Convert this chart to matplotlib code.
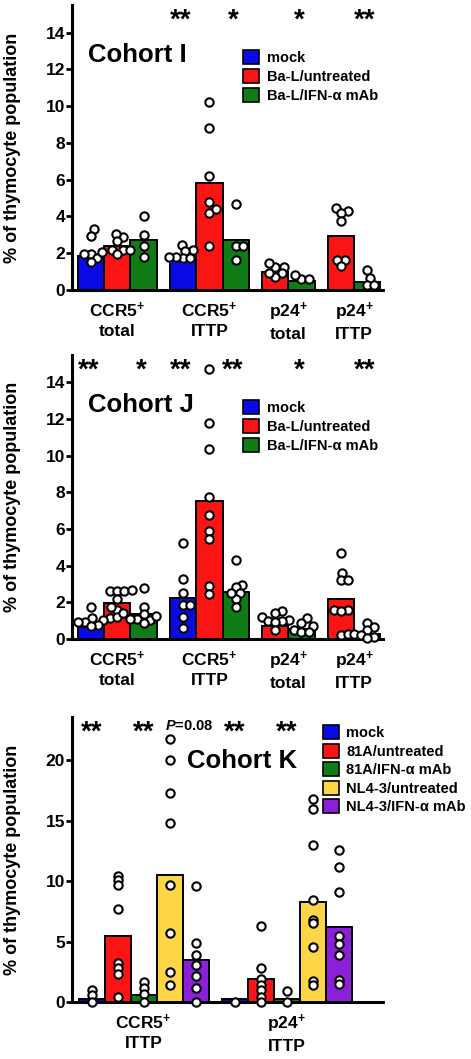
import matplotlib
matplotlib.use("Agg")
import matplotlib.pyplot as plt
from matplotlib.patches import Patch
import numpy as np

plt.rcParams['font.family'] = ['Liberation Sans', 'DejaVu Sans']
plt.rcParams['font.weight'] = 'bold'
plt.rcParams['mathtext.fontset'] = 'custom'
plt.rcParams['mathtext.rm'] = 'Liberation Sans:bold'
plt.rcParams['mathtext.bf'] = 'Liberation Sans:bold'
plt.rcParams['mathtext.it'] = 'Liberation Sans:italic:bold'
plt.rcParams['mathtext.default'] = 'bf'

# colours
c_mock = '#0a0ae6'
c_red = '#fb1414'
c_green = '#0f7c16'
c_yellow = '#fcd646'
c_purple = '#8c1fd8'

# ---------------- Cohort I ----------------
labels_ab = ['CCR5$^{\\!+}$\ntotal', 'CCR5$^{\\!+}$\nITTP', 'p24$^{\\!+}$\ntotal', 'p24$^{\\!+}$\nITTP']
legend_ab = ['mock', 'Ba-L/untreated', 'Ba-L/IFN-α mAb']

# bar heights per group (None = no bar)
i_bars = {
    'mock':  [1.85, 1.65, None, None],
    'untr':  [2.4, 5.8, 1.0, 2.95],
    'mab':   [2.72, 2.72, 0.47, 0.45],
}
i_points = {
    'mock': [[1.96, 3.3, 2.94, 1.76, 1.55, 2.05, 1.96],
             [2.15, 2.45, 2.1, 1.73, 1.8, 1.8, 1.75],
             None, None],
    'untr': [[2.9, 3.05, 2.64, 2.2, 2.2, 2.2, 1.96],
             [10.2, 8.8, 6.2, 4.8, 4.2, 4.4, 2.4],
             [1.27, 1.45, 1.27, 0.91, 0.73, 0.91],
             [4.27, 4.45, 4.18, 3.73, 1.64, 1.64, 1.33]],
    'mab':  [[4.0, 3.0, 2.4, 1.78],
             [4.7, 2.4, 2.4, 1.63],
             [0.6, 0.82, 0.6],
             [1.09, 0.64, 0.27, 0.27]],
}
i_stars = [(3.5, '**'), (5.5, '*'), (8.0, '*'), (10.5, '**')]

# ---------------- Cohort J ----------------
j_bars = {
    'mock':  [0.64, 2.22, None, None],
    'untr':  [1.98, 7.54, 0.71, 2.17],
    'mab':   [1.36, 2.55, 0.55, 0.28],
}
j_points = {
    'mock': [[1.77, 1.13, 1.13, 1.04, 0.95, 0.95, 0.76, 0.71],
             [5.26, 3.28, 2.5, 1.86, 1.86, 1.22, 0.58],
             None, None],
    'untr': [[2.64, 2.6, 2.6, 2.68, 2.17, 1.58, 1.77, 1.18, 1.4],
             [14.75, 11.78, 10.38, 7.74, 6.79, 5.92, 5.48, 2.91, 2.46],
             [1.55, 1.4, 1.2, 1.04, 1.0, 1.0, 0.95, 0.49],
             [4.7, 3.59, 3.2, 3.2, 1.58, 1.6, 1.55, 0.22, 0.3]],
    'mab':  [[2.77, 1.77, 1.04, 1.26, 1.37, 1.07, 0.89, 1.07],
             [4.31, 2.95, 2.82, 2.49, 2.18, 2.49, 1.77],
             [1.13, 0.89, 0.71, 0.49, 0.4, 0.4],
             [0.89, 0.67, 0.49, 0.27, 0.13, 0.22, 0.04]],
}
j_stars = [(0.0, '**'), (2.0, '*'), (3.5, '**'), (5.5, '**'), (8.0, '*'), (10.5, '**')]

# ---------------- Cohort K ----------------
labels_k = ['CCR5$^{\\!+}$\nITTP', 'p24$^{\\!+}$\nITTP']
legend_k = ['mock', '81A/untreated', '81A/IFN-α mAb', 'NL4-3/untreated', 'NL4-3/IFN-α mAb']
k_bars = [
    [0.28, 5.43, 0.6, 10.48, 3.5],
    [0.28, 1.9, 0.25, 8.28, 6.2],
]
k_points = [
    [[1.0, 0.58, 0.0],
     [10.4, 10.1, 9.7, 7.7, 3.2, 2.8, 2.3, 0.4],
     [1.68, 1.13, 0.66, 0.0],
     [21.8, 20.0, 17.3, 14.8, 9.7, 5.7, 2.5, 1.4],
     [9.57, 4.9, 3.9, 3.06, 2.15, 1.2, 0.0]],
    [[0.0],
     [6.3, 2.79, 1.88, 1.4, 1.0, 0.44, 0.0],
     [0.94, 0.0],
     [16.8, 16.0, 13.0, 8.44, 6.79, 6.57, 4.58, 1.77, 1.38],
     [12.55, 11.2, 9.08, 5.46, 4.77, 3.89, 1.82, 1.49]],
]
k_stars = [(0.0, '**'), (2.0, '**'), (5.5, '**'), (7.5, '**')]


def swarm_offsets(ax, x0, vals, d_px=7.2):
    # simple beeswarm in pixel space
    vals = np.asarray(vals, float)
    px = ax.transData.transform(np.column_stack([np.full(len(vals), x0), vals]))
    xpx0 = px[0, 0]
    ys = px[:, 1]
    placed = []
    xs = np.zeros(len(vals))
    for i in np.argsort(vals, kind='stable'):
        y = ys[i]
        cands = [0.0]
        for (cx, cy) in placed:
            dy = y - cy
            if abs(dy) < d_px:
                dx = np.sqrt(d_px ** 2 - dy ** 2)
                cands += [cx + dx, cx - dx]
        cands.sort(key=abs)
        for c in cands:
            if all((c - cx) ** 2 + (y - cy) ** 2 >= d_px ** 2 - 1e-6 for cx, cy in placed):
                xs[i] = c
                placed.append((c, y))
                break
    inv = ax.transData.inverted()
    out = inv.transform(np.column_stack([xpx0 + xs, ys]))
    return out[:, 0]


def style_axes(ax, ylim, yticks, xlim):
    ax.set_xlim(*xlim)
    ax.set_ylim(*ylim)
    ax.set_yticks(yticks)
    for s in ['top', 'right']:
        ax.spines[s].set_visible(False)
    for s in ['left', 'bottom']:
        ax.spines[s].set_linewidth(2.2)
    ax.tick_params(axis='y', direction='out', length=4, width=2, pad=1, labelsize=12.5)
    ax.tick_params(axis='x', length=0, pad=8, labelsize=12.5)
    for t in ax.get_yticklabels():
        t.set_fontweight('bold')


def draw_points(ax, x, vals, jitter=True):
    if vals is None:
        return
    if jitter:
        xs = swarm_offsets(ax, x, vals)
    else:
        xs = np.full(len(vals), x)
    ax.plot(xs, vals, 'o', ms=6.0, mfc='white', mec='black', mew=1.5,
            zorder=5, clip_on=False)


fig = plt.figure(figsize=(4.71, 10.59), dpi=100)
W, H = 471.0, 1059.0

def add_axes(top_px, zero_px):
    return fig.add_axes([72 / W, 1 - zero_px / H, 311 / W, (zero_px - top_px) / H])

# positions of the bars inside each panel (blue, red, green)
ab_pos = [[0, 1, 2], [3.5, 4.5, 5.5], [None, 7, 8], [None, 9.5, 10.5]]
ab_colors = [c_mock, c_red, c_green]
keys = ['mock', 'untr', 'mab']

for (top, zero, bars, points, stars, name) in [
        (5, 290, i_bars, i_points, i_stars, 'Cohort I'),
        (355, 639, j_bars, j_points, j_stars, 'Cohort J')]:
    ax = add_axes(top, zero)
    style_axes(ax, (0, 15.5), range(0, 15, 2), (-0.72, 11.1))
    for g in range(4):
        for s, k in enumerate(keys):
            x = ab_pos[g][s]
            if x is None:
                continue
            ax.bar(x, bars[k][g], width=1.0, color=ab_colors[s],
                   edgecolor='black', linewidth=1.4, zorder=3)
    for g in range(4):
        for s, k in enumerate(keys):
            x = ab_pos[g][s]
            if x is None:
                continue
            draw_points(ax, x, points[k][g])
    ax.set_xticks([1, 4.5, 7.5, 10])
    ax.set_xticklabels(labels_ab, fontsize=12.5, fontweight='bold', linespacing=1.3)
    for x, s in stars:
        ax.text(x - 0.1, 14.25, s, ha='center', va='baseline', fontsize=20,
                fontweight='bold', clip_on=False)
    ax.text(0.052, 0.80, name, transform=ax.transAxes, fontsize=18.5,
            fontweight='bold', va='baseline', ha='left')
    handles = [Patch(facecolor=c, edgecolor='black', linewidth=1.2) for c in ab_colors]
    ax.legend(handles, legend_ab, loc='upper left', bbox_to_anchor=(0.55, 0.842),
              frameon=False, prop={'weight': 'bold', 'size': 10.5},
              handlelength=1.1, handleheight=1.1, handletextpad=0.55,
              labelspacing=0.28, borderpad=0, borderaxespad=0)
    fig.text(13 / W, 1 - (top + zero) / 2 / H, '% of thymocyte population',
             rotation=90, ha='center', va='center', fontsize=13, fontweight='bold')

# Cohort K
k_colors = [c_mock, c_red, c_green, c_yellow, c_purple]
k_pos = [[0, 1, 2, 3, 4], [5.5, 6.5, 7.5, 8.5, 9.5]]
top, zero = 717, 1002
ax = add_axes(top, zero)
style_axes(ax, (0, 23.6), [0, 5, 10, 15, 20], (-0.75, 11.2))
for g in range(2):
    for s in range(5):
        ax.bar(k_pos[g][s], k_bars[g][s], width=1.0, color=k_colors[s],
               edgecolor='black', linewidth=1.4, zorder=3)
for g in range(2):
    for s in range(5):
        draw_points(ax, k_pos[g][s], k_points[g][s], jitter=False)
ax.set_xticks([2, 7.5])
ax.set_xticklabels(labels_k, fontsize=12.5, fontweight='bold', linespacing=1.3)
for x, s in k_stars:
    ax.text(x, 21.75, s, ha='center', va='baseline', fontsize=20,
            fontweight='bold', clip_on=False)
ax.text(3.75, 22.55, r'$\mathit{P}$=0.08', ha='center', va='baseline', fontsize=10.5,
        fontweight='bold', clip_on=False)
ax.text(0.37, 0.82, 'Cohort K', transform=ax.transAxes, fontsize=18.5,
        fontweight='bold', va='baseline', ha='left')
handles = [Patch(facecolor=c, edgecolor='black', linewidth=1.2) for c in k_colors]
ax.legend(handles, legend_k, loc='upper left', bbox_to_anchor=(0.807, 0.972),
          frameon=False, prop={'weight': 'bold', 'size': 10.5},
          handlelength=1.1, handleheight=1.1, handletextpad=0.5,
          labelspacing=0.25, borderpad=0, borderaxespad=0)
fig.text(13 / W, 1 - (top + zero) / 2 / H, '% of thymocyte population',
         rotation=90, ha='center', va='center', fontsize=13, fontweight='bold')

fig.savefig('out.png', dpi=100)
